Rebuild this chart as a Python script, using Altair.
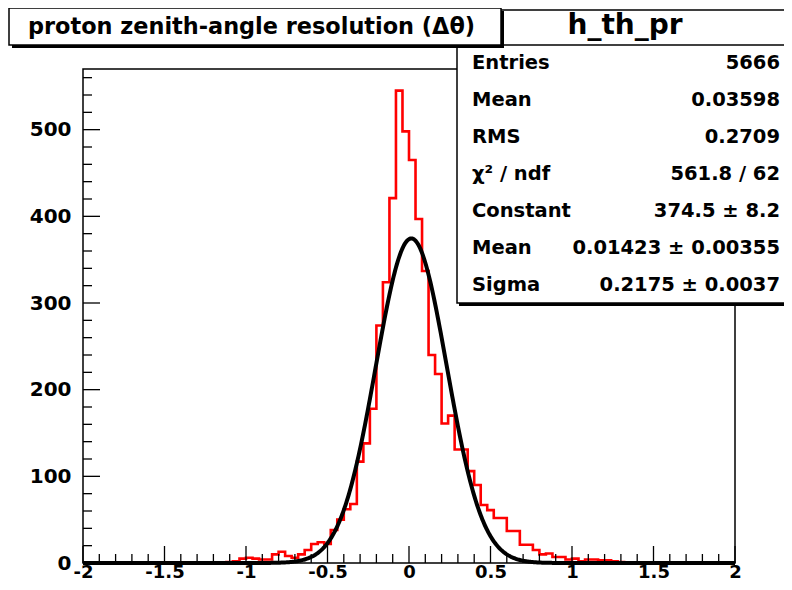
import altair as alt
import pandas as pd

# ---------------- data ----------------
x_min, x_max = -2.0, 2.0
n_bins = 100
first_nonzero_edge = -1.12          # lower edge of first listed bin
counts = [1, 2, 5, 6, 5, 4, 4, 10, 13, 8, 6, 10, 15, 22, 24, 22, 38, 50, 62, 68,
          117, 138, 178, 274, 324, 421, 545, 498, 465, 397, 337, 240, 218, 161, 170,
          131, 131, 106, 90, 67, 61, 52, 52, 37, 37, 21, 21, 15, 10, 11, 7, 7, 4, 5,
          2, 4, 4, 3, 3, 2, 1]
y_max = 570

fit_params = [374.5, 0.01423, 0.2175]   # Constant, Mean, Sigma

x_major = [-2, -1.5, -1, -0.5, 0, 0.5, 1, 1.5, 2]
x_minor = [-1.9, -1.8, -1.7, -1.6, -1.4, -1.3, -1.2, -1.1, -0.9, -0.8, -0.7, -0.6,
           -0.4, -0.3, -0.2, -0.1, 0.1, 0.2, 0.3, 0.4, 0.6, 0.7, 0.8, 0.9,
           1.1, 1.2, 1.3, 1.4, 1.6, 1.7, 1.8, 1.9]
y_major = [0, 100, 200, 300, 400, 500]
y_minor = [20, 40, 60, 80, 120, 140, 160, 180, 220, 240, 260, 280, 320, 340, 360,
           380, 420, 440, 460, 480, 520, 540, 560]

title_text = "proton zenith-angle resolution (\u0394\u03b8)"
hist_name = "h_th_pr"
stats_names = ["Entries", "Mean", "RMS", "\u03c7\u00b2 / ndf", "Constant", "Mean", "Sigma"]
stats_values = ["5666", "0.03598", "0.2709", "561.8 / 62", "374.5 \u00b1 8.2",
                "0.01423 \u00b1 0.00355", "0.2175 \u00b1 0.0037"]

# ---------------- tables ----------------
bw = (x_max - x_min) / n_bins
rows = []
for i in range(n_bins):
    edge = round(x_min + i * bw, 4)
    k = round((edge - first_nonzero_edge) / bw)
    c = counts[k] if 0 <= k < len(counts) else 0
    rows.append({"x": edge, "count": c})
rows.append({"x": x_max, "count": rows[-1]["count"]})
hist_df = pd.DataFrame(rows)

W, H = 652, 494
FONT = "DejaVu Sans"

xscale = alt.Scale(domain=[x_min, x_max], nice=False, zero=False)
yscale = alt.Scale(domain=[0, y_max], nice=False, zero=True)

xaxis = alt.Axis(values=x_major, labelExpr="toString(datum.value)", ticks=False,
                 domain=False, grid=False, title=None, labelFont=FONT,
                 labelFontWeight="bold", labelFontSize=18, labelColor="black",
                 labelBaseline="alphabetic", labelPadding=14,
                 labelFlush=False, labelOverlap=False)
yaxis = alt.Axis(values=y_major, labelExpr="toString(datum.value)", ticks=False,
                 domain=False, grid=False, title=None, labelFont=FONT,
                 labelFontWeight="bold", labelFontSize=20, labelColor="black",
                 labelPadding=12, labelFlush=False, labelOverlap=False)

hist = alt.Chart(hist_df).mark_line(
    interpolate="step-after", color="#ff0000", strokeWidth=2.6
).encode(
    x=alt.X("x:Q", scale=xscale, axis=xaxis),
    y=alt.Y("count:Q", scale=yscale, axis=yaxis),
)

C, MU, SIG = fit_params
curve = alt.Chart(alt.sequence(start=x_min, stop=x_max + 0.0001, step=0.005, as_="x")).transform_calculate(
    y=f"{C} * exp(-0.5 * pow((datum.x - ({MU})) / {SIG}, 2))"
).mark_line(color="black", strokeWidth=4).encode(
    x=alt.X("x:Q", scale=xscale), y=alt.Y("y:Q", scale=yscale)
)

def xticks(vals, length):
    return alt.Chart(pd.DataFrame({"v": vals})).mark_rule(color="black", strokeWidth=1.3).encode(
        x=alt.X("v:Q", scale=xscale), y=alt.value(H), y2=alt.value(H - length))

def yticks(vals, length):
    return alt.Chart(pd.DataFrame({"v": vals})).mark_rule(color="black", strokeWidth=1.3).encode(
        y=alt.Y("v:Q", scale=yscale), x=alt.value(0), x2=alt.value(length))

one = pd.DataFrame({"k": [0]})

def box(x1, x2, y1, y2, fill, stroke=None, sw=0):
    kw = dict(fill=fill)
    if stroke:
        kw.update(stroke=stroke, strokeWidth=sw)
    else:
        kw.update(strokeWidth=0)
    return alt.Chart(one).mark_rect(**kw).encode(
        x=alt.value(x1), x2=alt.value(x2), y=alt.value(y1), y2=alt.value(y2))

def txt(s, x, y, size, align="left", weight="bold"):
    return alt.Chart(one).mark_text(
        text=s, align=align, baseline="middle", font=FONT, fontSize=size,
        fontWeight=weight, color="black"
    ).encode(x=alt.value(x), y=alt.value(y))

layers = [hist, curve,
          xticks(x_major, 17), xticks(x_minor, 9),
          yticks(y_major, 17), yticks(y_minor, 9)]

# stats box
layers += [box(376, 730, -57, 237, "black"),
           box(374, 730, -59, 234, "white", "black", 1.5),
           alt.Chart(one).mark_rule(color="black", strokeWidth=1.5).encode(
               x=alt.value(374), x2=alt.value(730), y=alt.value(-24)),
           txt(hist_name, 542, -43, 28, align="center")]
row_h = (234 + 24) / len(stats_names)
for i, (nm, vl) in enumerate(zip(stats_names, stats_values)):
    yc = -24 + row_h * (i + 0.5)
    layers += [txt(nm, 389, yc, 19.5), txt(vl, 697, yc, 19.5, align="right")]

# title box
layers += [box(-71, 421, -58, -21, "black"),
           box(-74, 418, -61, -24, "white", "black", 1.5),
           txt(title_text, -55, -42, 22.4)]

chart = alt.layer(*layers).properties(
    width=W, height=H,
    padding={"left": 75, "top": 61, "right": 49, "bottom": 19},
    autosize=alt.AutoSizeParams(type="none"),
    background="white",
).configure_view(stroke="black", strokeWidth=1.5)

chart.save("out.html", embed_options={"renderer": "svg", "actions": False})
